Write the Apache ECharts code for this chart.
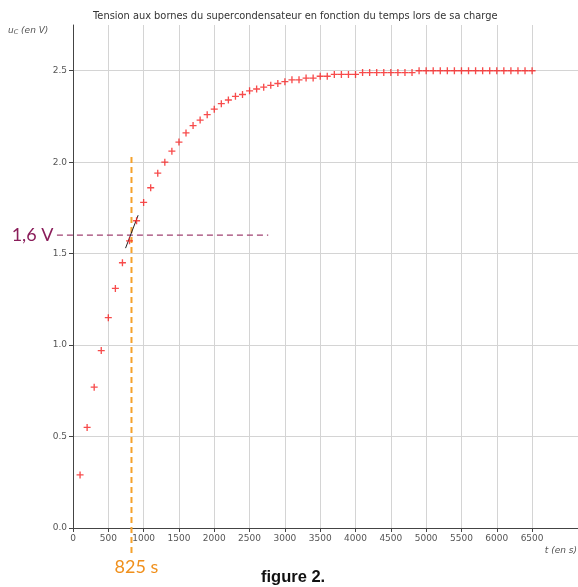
<!DOCTYPE html>
<html>
<head>
    <meta charset="utf-8">
    <title>Tension aux bornes du supercondensateur</title>
    <script src="https://cdn.jsdelivr.net/npm/echarts@6/dist/echarts.min.js"></script>
</head>
<body style="margin:0;background:#fff;">
    <div id="main" style="width:578px;height:587px;"></div>
    <script type="text/javascript">
        // temps (s) et tension uC (V)
        var temps = [100, 200, 300, 400, 500, 600, 700, 800, 900, 1000,
            1100, 1200, 1300, 1400, 1500, 1600, 1700, 1800, 1900, 2000,
            2100, 2200, 2300, 2400, 2500, 2600, 2700, 2800, 2900, 3000,
            3100, 3200, 3300, 3400, 3500, 3600, 3700, 3800, 3900, 4000,
            4100, 4200, 4300, 4400, 4500, 4600, 4700, 4800, 4900, 5000,
            5100, 5200, 5300, 5400, 5500, 5600, 5700, 5800, 5900, 6000,
            6100, 6200, 6300, 6400, 6500];
        var tension = [0.29, 0.55, 0.77, 0.97, 1.15, 1.31, 1.45, 1.57, 1.68, 1.78,
            1.86, 1.94, 2.00, 2.06, 2.11, 2.16, 2.20, 2.23, 2.26, 2.29,
            2.32, 2.34, 2.36, 2.37, 2.39, 2.40, 2.41, 2.42, 2.43, 2.44,
            2.45, 2.45, 2.46, 2.46, 2.47, 2.47, 2.48, 2.48, 2.48, 2.48,
            2.49, 2.49, 2.49, 2.49, 2.49, 2.49, 2.49, 2.49, 2.50, 2.50,
            2.50, 2.50, 2.50, 2.50, 2.50, 2.50, 2.50, 2.50, 2.50, 2.50,
            2.50, 2.50, 2.50, 2.50, 2.50];

        var xTicks = [0, 500, 1000, 1500, 2000, 2500, 3000, 3500, 4000, 4500, 5000, 5500, 6000, 6500];
        var yTicks = [0.0, 0.5, 1.0, 1.5, 2.0, 2.5];

        // constructions graphiques (methode de la tangente)
        var ligne16 = [[-231, 1.6], [2762, 1.6]];
        var ligne825 = [[825, -0.14], [825, 2.03]];
        var tangente = [[744, 1.53], [922, 1.71]];

        var points = [];
        for (var i = 0; i < temps.length; i++) {
            points.push([temps[i], tension[i]]);
        }

        // lignes de grille : grises jusqu'a 6500, rien au-dela
        var gridColors = [];
        for (var j = 0; j < 16; j++) {
            gridColors.push(j < xTicks.length ? '#d4d4d4' : 'rgba(0,0,0,0)');
        }

        var tickFont = {fontFamily: 'DejaVu Sans', fontSize: 9, color: '#555'};
        var plus = 'path://M-0.19,-1H0.19V-0.19H1V0.19H0.19V1H-0.19V0.19H-1V-0.19H-0.19Z';
        var invisible = {color: 'rgba(0,0,0,0)'};

        var myChart = echarts.init(document.getElementById('main'), null, {renderer: 'canvas'});

        var option = {
            animation: false,
            backgroundColor: '#fff',
            title: {
                text: 'Tension aux bornes du supercondensateur en fonction du temps lors de sa charge',
                left: 88,
                top: 6,
                textStyle: {fontFamily: 'DejaVu Sans', fontSize: 9.85, fontWeight: 'normal', color: '#333'}
            },
            grid: [
                {left: 73, right: 0, top: 25, bottom: 59},
                // repere auxiliaire (meme echelle) pour les traces qui debordent du cadre
                {left: 33, right: 0, top: 25, bottom: 23}
            ],
            xAxis: [{
                type: 'value',
                gridIndex: 0,
                min: 0,
                max: 7150,
                interval: 500,
                axisLine: {show: true, onZero: false, lineStyle: {color: '#444', width: 1}},
                axisTick: {show: true, inside: false, length: 4, customValues: xTicks, lineStyle: {color: '#444'}},
                axisLabel: {
                    customValues: xTicks,
                    margin: 6,
                    fontFamily: tickFont.fontFamily, fontSize: tickFont.fontSize, color: tickFont.color,
                    formatter: function (v) { return xTicks.indexOf(v) >= 0 ? String(v) : ''; }
                },
                splitLine: {show: true, lineStyle: {color: gridColors, width: 1}}
            }, {
                // bord superieur du cadre
                type: 'value',
                gridIndex: 0,
                position: 'top',
                min: 0,
                max: 7150,
                axisLine: {show: true, lineStyle: {color: '#444', width: 1}},
                axisTick: {show: false},
                axisLabel: {show: false},
                splitLine: {show: false}
            }, {
                type: 'value',
                gridIndex: 1,
                show: false,
                min: -570,
                max: 7150
            }],
            yAxis: [{
                type: 'value',
                gridIndex: 0,
                min: 0,
                max: 2.75,
                interval: 0.5,
                axisLine: {show: true, onZero: false, lineStyle: {color: '#444', width: 1}},
                axisTick: {show: true, inside: false, length: 4, customValues: yTicks, lineStyle: {color: '#444'}},
                axisLabel: {
                    customValues: yTicks,
                    margin: 6,
                    fontFamily: tickFont.fontFamily, fontSize: tickFont.fontSize, color: tickFont.color,
                    formatter: function (v) { return v.toFixed(1); }
                },
                splitLine: {show: true, lineStyle: {color: '#d4d4d4', width: 1}}
            }, {
                type: 'value',
                gridIndex: 1,
                show: false,
                min: -0.2,
                max: 2.75
            }],
            graphic: [
                {
                    type: 'text', left: 8, top: 26,
                    style: {
                        text: '{u|u}{s|C}{u| (en V)}',
                        rich: {
                            u: {fontFamily: 'DejaVu Sans', fontStyle: 'italic', fontSize: 9, fill: '#555'},
                            s: {fontFamily: 'DejaVu Sans', fontStyle: 'italic', fontSize: 6.5, fill: '#555', padding: [4, 0, 0, 0]}
                        }
                    }
                },
                {
                    type: 'text', right: 1, top: 546,
                    style: {text: 't (en s)', fontFamily: 'DejaVu Sans', fontStyle: 'italic', fontSize: 9, fill: '#555'}
                },
                {
                    type: 'text', left: 261, top: 569,
                    style: {text: 'figure 2.', fontFamily: 'Liberation Sans', fontWeight: 'bold', fontSize: 16.5, fill: '#111'}
                }
            ],
            series: [
                {
                    name: 'uC',
                    type: 'scatter',
                    data: points,
                    symbol: plus,
                    symbolSize: 7,
                    itemStyle: {color: '#f51e1e'},
                    z: 5
                },
                {
                    name: '1,6 V',
                    type: 'line',
                    xAxisIndex: 2,
                    yAxisIndex: 1,
                    data: ligne16,
                    symbol: 'none',
                    lineStyle: {color: '#a04272', width: 1.2, type: [6, 4]},
                    markPoint: {
                        symbol: 'circle',
                        symbolSize: 1,
                        itemStyle: invisible,
                        data: [{coord: ligne16[0], label: {
                            show: true, position: 'left', distance: 3, formatter: '1,6 V',
                            fontFamily: 'Lato', fontSize: 18, color: '#8a1d5a'
                        }}]
                    },
                    z: 3
                },
                {
                    name: '825 s',
                    type: 'line',
                    xAxisIndex: 2,
                    yAxisIndex: 1,
                    data: ligne825,
                    symbol: 'none',
                    lineStyle: {color: '#f5a22c', width: 2, type: [6, 4]},
                    markPoint: {
                        symbol: 'circle',
                        symbolSize: 1,
                        itemStyle: invisible,
                        data: [{coord: ligne825[0], label: {
                            show: true, position: 'bottom', distance: 5, offset: [5, 0], formatter: '825 s',
                            fontFamily: 'Lato', fontSize: 18, color: '#f0901c'
                        }}]
                    },
                    z: 3
                },
                {
                    name: 'tangente',
                    type: 'line',
                    data: tangente,
                    symbol: 'none',
                    lineStyle: {color: '#222', width: 1},
                    z: 4
                }
            ]
        };

        myChart.setOption(option);
    </script>
</body>
</html>
